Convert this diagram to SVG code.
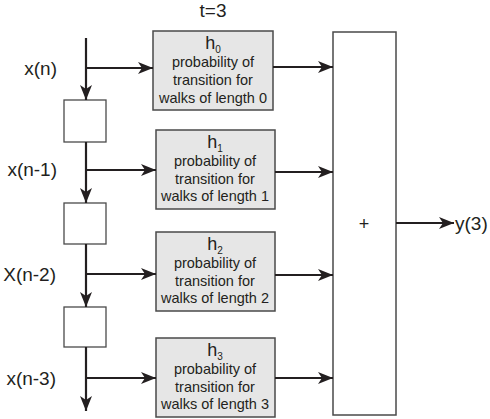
<svg xmlns="http://www.w3.org/2000/svg" width="490" height="419" viewBox="0 0 490 419">
<defs>
<marker id="arr" viewBox="0 0 15 12" refX="15" refY="6" markerWidth="15" markerHeight="12" markerUnits="userSpaceOnUse" orient="auto">
<path d="M0,0 L15,6 L0,12 L4,6 z" fill="#231f20"/>
</marker>
<style>
.lbl{font-family:"Liberation Sans",Arial,sans-serif;font-size:19px;fill:#231f20}
.bt{font-family:"Liberation Sans",Arial,sans-serif;font-size:14.5px;fill:#231f20;text-anchor:middle}
.h{font-family:"Liberation Sans",Arial,sans-serif;font-size:18px;fill:#231f20;text-anchor:middle}
.hb{fill:#e6e6e6;stroke:#4a4a4a;stroke-width:1.5}
.db{fill:#fff;stroke:#4a4a4a;stroke-width:1.3}
.ln{fill:none;stroke:#231f20;stroke-width:2.2;marker-end:url(#arr)}
</style>
</defs>
<rect width="490" height="419" fill="#fff"/>
<text class="lbl" x="213" y="17" text-anchor="middle">t=3</text>
<g id="labels">
<text class="lbl" x="57" y="75" text-anchor="end">x(n)</text>
<text class="lbl" x="57" y="176" text-anchor="end">x(n-1)</text>
<text class="lbl" x="56" y="281" text-anchor="end">X(n-2)</text>
<text class="lbl" x="56" y="385" text-anchor="end">x(n-3)</text>
</g>
<g id="delay1"><rect class="db" x="64" y="100" width="42" height="42"/></g>
<g id="delay2"><rect class="db" x="64" y="203" width="42" height="41"/></g>
<g id="delay3"><rect class="db" x="64" y="307" width="42" height="40"/></g>
<g id="h0">
<rect class="hb" x="153" y="31" width="120" height="79"/>
<text class="h" x="213" y="49">h<tspan font-size="10" dy="4">0</tspan></text>
<text class="bt" x="213" y="67">probability of</text>
<text class="bt" x="213" y="85">transition for</text>
<text class="bt" x="213" y="103">walks of length 0</text>
</g>
<g id="h1">
<rect class="hb" x="156" y="130" width="119" height="79"/>
<text class="h" x="215" y="148">h<tspan font-size="10" dy="4">1</tspan></text>
<text class="bt" x="215" y="166">probability of</text>
<text class="bt" x="215" y="184">transition for</text>
<text class="bt" x="215" y="201">walks of length 1</text>
</g>
<g id="h2">
<rect class="hb" x="156" y="232" width="119" height="79"/>
<text class="h" x="215" y="250">h<tspan font-size="10" dy="4">2</tspan></text>
<text class="bt" x="215" y="268">probability of</text>
<text class="bt" x="215" y="286">transition for</text>
<text class="bt" x="215" y="303">walks of length 2</text>
</g>
<g id="h3">
<rect class="hb" x="156" y="338" width="119" height="79"/>
<text class="h" x="215" y="356">h<tspan font-size="10" dy="4">3</tspan></text>
<text class="bt" x="215" y="374">probability of</text>
<text class="bt" x="215" y="392">transition for</text>
<text class="bt" x="215" y="409">walks of length 3</text>
</g>
<g id="sum">
<rect x="333" y="32" width="63" height="383" fill="#fff" stroke="#4a4a4a" stroke-width="1.5"/>
<text class="bt" x="364" y="230" style="font-size:18px">+</text>
</g>
<text class="lbl" x="455" y="230">y(3)</text>
<g id="connectors">
<path class="ln" d="M86,38 V100"/>
<path class="ln" d="M86,68 H153"/>
<path class="ln" d="M86,142 V203"/>
<path class="ln" d="M86,170 H156"/>
<path class="ln" d="M86,244 V307"/>
<path class="ln" d="M86,274 H156"/>
<path class="ln" d="M86,347 V411"/>
<path class="ln" d="M86,378 H156"/>
<path class="ln" d="M273,67 H333"/>
<path class="ln" d="M275,172 H333"/>
<path class="ln" d="M275,275 H333"/>
<path class="ln" d="M275,378 H333"/>
<path class="ln" d="M396,223 H454"/>
</g>
</svg>
